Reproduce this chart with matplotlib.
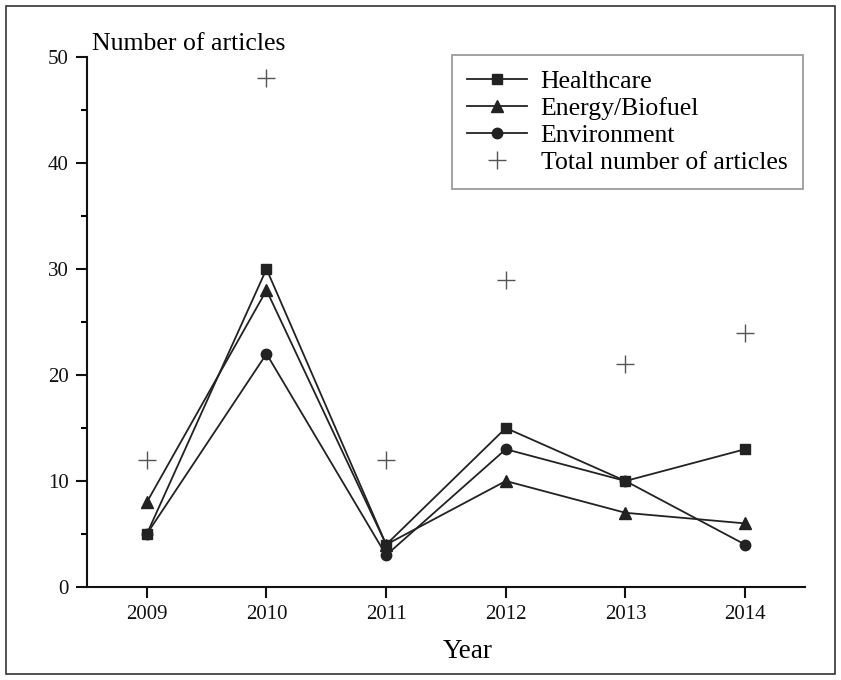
import matplotlib.pyplot as plt
from matplotlib.patches import Rectangle
from matplotlib.ticker import MultipleLocator

plt.rcParams['font.family'] = ['Liberation Serif', 'DejaVu Serif']

years = [2009, 2010, 2011, 2012, 2013, 2014]
healthcare = [5, 30, 4, 15, 10, 13]
energy = [8, 28, 4, 10, 7, 6]
environment = [5, 22, 3, 13, 10, 4]
total = [12, 48, 12, 29, 21, 24]

W, H = 841, 680
fig = plt.figure(figsize=(W / 100, H / 100), dpi=100)
ax = fig.add_axes([87 / W, 1 - 587 / H, (805 - 87) / W, (587 - 57) / H])

# outer frame around the whole figure
fig.patches.append(Rectangle((6 / W, 6 / H), 829 / W, 668 / H, transform=fig.transFigure,
                             fill=False, edgecolor='#333333', linewidth=1.2))

ax.plot(years, healthcare, color='#222222', lw=1.3, marker='s', ms=7, label='Healthcare')
ax.plot(years, energy, color='#222222', lw=1.3, marker='^', ms=8, label='Energy/Biofuel')
ax.plot(years, environment, color='#222222', lw=1.3, marker='o', ms=7.5, label='Environment')
ax.plot(years, total, linestyle='', color='#555555', marker='+', ms=13, mew=1.0,
        label='Total number of articles')

ax.set_xlim(2008.5, 2014.5)
ax.set_ylim(0, 50)
ax.set_xticks(years)
ax.yaxis.set_major_locator(MultipleLocator(10))
ax.yaxis.set_minor_locator(MultipleLocator(5))

for s in ['top', 'right']:
    ax.spines[s].set_visible(False)
for s in ['left', 'bottom']:
    ax.spines[s].set_linewidth(1.5)
    ax.spines[s].set_color('#111111')

ax.tick_params(axis='both', which='major', direction='out', length=8, width=1.5,
               labelsize=15, colors='#111111', pad=5)
ax.tick_params(axis='y', which='minor', direction='out', length=4.5, width=1.5)

# axis titles placed as plain text
fig.text(468 / W, 1 - 658 / H, 'Year', fontsize=19.5, ha='center', va='baseline')
fig.text(92 / W, 1 - 50 / H, 'Number of articles', fontsize=18.5, ha='left', va='baseline')

leg = ax.legend(loc='upper left', bbox_to_anchor=(452 / W, 1 - 55 / H),
                bbox_transform=fig.transFigure, borderaxespad=0, fontsize=18.5,
                frameon=True, fancybox=False, edgecolor='#777777',
                handlelength=2.3, borderpad=0.6, labelspacing=0.15, handletextpad=0.55)
leg.get_frame().set_linewidth(1.2)

fig.savefig('out.png', dpi=100)
